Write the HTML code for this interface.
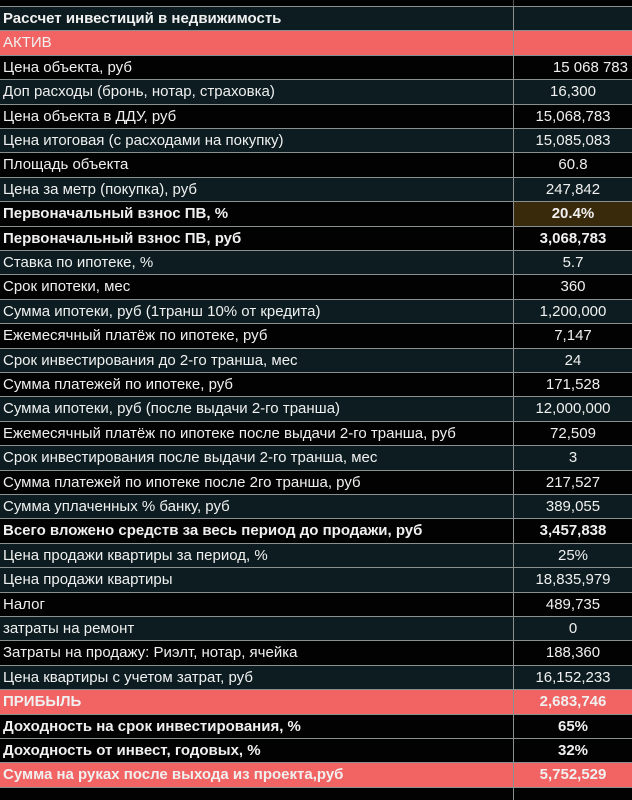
<!DOCTYPE html>
<html><head><meta charset="utf-8"><style>
*{margin:0;padding:0;box-sizing:border-box}
body{width:632px;height:800px;background:#020202;overflow:hidden;font-family:"Liberation Sans","Noto Sans CJK SC",sans-serif;color:#f0f0f0;position:relative}
.r{position:absolute;left:0;width:632px;height:24.4px;border-top:1px solid #8a9090;display:flex;font-size:15px;line-height:23px}
.l{width:514px;padding-left:3px;white-space:nowrap;border-right:1px solid #8a9090}
.v{width:118px;text-align:center}
.t{background:#0c1c20}
.k{background:#020202}
.red{background:#f26464}
.b{font-weight:bold}
.vline{position:absolute;left:513px;top:0;width:1px;height:800px;background:#55595a}
</style></head><body>
<div class="vline"></div>
<div id="c"></div>
<script>
var rows=[
["Рассчет инвестиций в недвижимость","","t b"],
["АКТИВ","","red"],
["Цена объекта, руб","15 068 783","k","right"],
["Доп расходы (бронь, нотар, страховка)","16,300","t"],
["Цена объекта в ДДУ, руб","15,068,783","k"],
["Цена итоговая (с расходами на покупку)","15,085,083","t"],
["Площадь объекта","60.8","k"],
["Цена за метр (покупка), руб","247,842","t"],
["Первоначальный взнос ПВ, %","20.4%","k b","brown"],
["Первоначальный взнос ПВ, руб","3,068,783","k b"],
["Ставка по ипотеке, %","5.7","t"],
["Срок ипотеки, мес","360","k"],
["Сумма ипотеки, руб (1транш 10% от кредита)","1,200,000","t"],
["Ежемесячный платёж по ипотеке, руб","7,147","k"],
["Срок инвестирования до 2-го транша, мес","24","t"],
["Сумма платежей по ипотеке, руб","171,528","k"],
["Сумма ипотеки, руб (после выдачи 2-го транша)","12,000,000","t"],
["Ежемесячный платёж по ипотеке после выдачи 2-го транша, руб","72,509","k"],
["Срок инвестирования после выдачи 2-го транша, мес","3","t"],
["Сумма платежей по ипотеке после 2го транша, руб","217,527","k"],
["Сумма уплаченных % банку, руб","389,055","t"],
["Всего вложено средств за весь период до продажи, руб","3,457,838","k b"],
["Цена продажи квартиры за период, %","25%","t"],
["Цена продажи квартиры","18,835,979","t"],
["Налог","489,735","k"],
["затраты на ремонт","0","t"],
["Затраты на продажу: Риэлт, нотар, ячейка","188,360","k"],
["Цена квартиры с учетом затрат, руб","16,152,233","t"],
["ПРИБЫЛЬ","2,683,746","red b"],
["Доходность на срок инвестирования, %","65%","k b"],
["Доходность от инвест, годовых, %","32%","k b"],
["Сумма на руках после выхода из проекта,руб","5,752,529","red b"]
];
var h="";
rows.forEach(function(r,i){
 var top=6+i*24.4;
 var vs="";
 if(r[3]=="right")vs="text-align:right;padding-right:4px;";
 if(r[3]=="brown")vs="background:#3a2a0c;";
 h+='<div class="r '+r[2]+'" style="top:'+top+'px"><div class="l">'+r[0]+'</div><div class="v" style="'+vs+'">'+r[1]+'</div></div>';
});
h+='<div class="r k" style="top:787px;height:13px"><div class="l"></div><div class="v"></div></div>';
document.getElementById("c").innerHTML=h;
</script>
</body></html>
